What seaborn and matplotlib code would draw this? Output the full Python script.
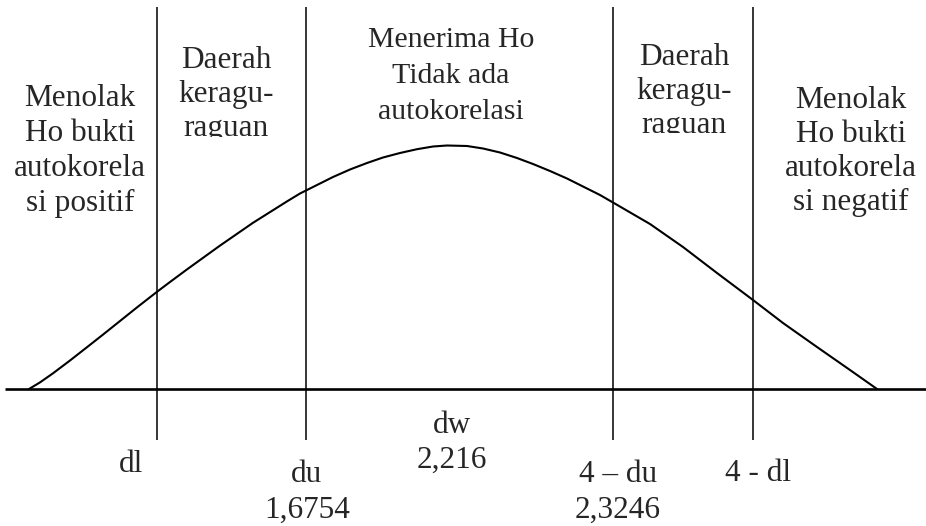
import matplotlib
matplotlib.use("Agg")
from matplotlib import pyplot as plt
from matplotlib.patches import Rectangle
import seaborn as sns
import pandas as pd

# bell curve: position along the axis, height above the axis
curve_x = [29, 40, 53, 70, 87, 103, 120, 137, 157, 170, 187, 220, 253, 287,
           300, 317, 333, 350, 367, 383, 400, 417, 433, 447, 467, 483, 500,
           517, 533, 550, 567, 583, 600, 613, 650, 683, 717, 753, 783, 817,
           850, 877]
curve_h = [0, 6.6, 15.7, 28.5, 41.8, 54.4, 68, 81.6, 97.2, 107, 119.6, 143.4,
           166.2, 187.6, 195.5, 204, 212, 219.5, 226, 231.5, 236, 239.8, 242.5,
           243.5, 243, 240.5, 236.5, 231, 225, 218, 210.5, 202.5, 194, 186.5,
           165, 142, 116, 89, 66, 42, 19, 0]

# boundary lines dl, du, 4-du, 4-dl (schematic positions)
bounds_x = [157, 306, 613, 753]

# region captions
region_text = [
    ["Menolak", "Ho bukti", "autokorela", "si positif"],
    ["Daerah", "keragu-", "raguan"],
    ["Menerima Ho", "Tidak ada", "autokorelasi"],
    ["Daerah", "keragu-", "raguan"],
    ["Menolak", "Ho bukti", "autokorela", "si negatif"],
]
bound_text = [["dl"], ["du", "1,6754"], ["4 \u2013 du", "2,3246"], ["4 - dl"]]
dw_text = ["dw", "2,216"]

sns.set_style("white")
plt.rcParams['font.family'] = ['Liberation Serif', 'DejaVu Serif']

fig = plt.figure(figsize=(9.26, 5.26), dpi=100)
ax = fig.add_axes([0, 0, 1, 1])
ax.set_xlim(0, 926)
ax.set_ylim(-137, 389)
ax.axis("off")

df = pd.DataFrame({"x": curve_x, "h": curve_h})
sns.lineplot(data=df, x="x", y="h", color="black", linewidth=1.5, ax=ax, sort=False)

ax.hlines(0, 5, 926, color="black", linewidth=1.9)
ax.vlines(bounds_x, -51, 382, color="black", linewidth=1.1)

fs = 22.5
# (center x, first baseline height, step, clip height or None, font size)
region_pos = [(80, 283, 35, None, fs), (226, 321, 34, 252, fs),
              (451, 342, 36, 270, 21.5), (684, 324, 34, 256, fs),
              (851, 281, 34, None, fs)]
for lines, (cx, y0, step, clip, size) in zip(region_text, region_pos):
    for i, s in enumerate(lines):
        t = ax.text(cx, y0 - i * step, s, ha="center", va="baseline",
                    fontsize=size, clip_on=clip is not None)
        if clip is not None:
            rect = Rectangle((0, clip), 926, 400, transform=ax.transData)
            t.set_clip_path(rect)

bound_pos = [(131, -83), (307, -93), (618, -93), (758, -92)]
for lines, (cx, y0) in zip(bound_text, bound_pos):
    for i, s in enumerate(lines):
        ax.text(cx, y0 - i * 36, s, ha="center", va="baseline", fontsize=fs)

for i, s in enumerate(dw_text):
    ax.text(452, -44 - i * 35, s, ha="center", va="baseline", fontsize=fs)

fig.savefig("out.png", dpi=100, facecolor="white")
